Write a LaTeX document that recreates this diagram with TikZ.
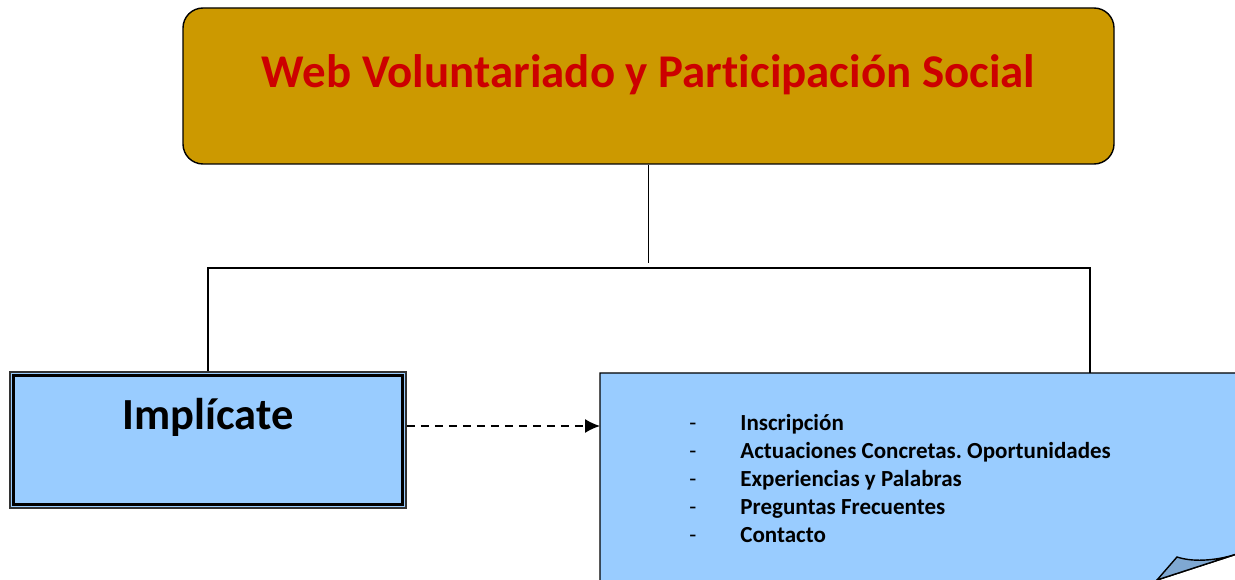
\documentclass[tikz,border=0pt]{standalone}
\usepackage{fontspec}
\setmainfont{Carlito}[Ligatures=NoCommon]
\usetikzlibrary{arrows.meta}
\frenchspacing

\definecolor{gold}{HTML}{CC9900}
\definecolor{titlered}{HTML}{CC0000}
\definecolor{skyblue}{HTML}{99CCFF}
\definecolor{flapblue}{HTML}{7FA8D2}

\tikzset{
	conn/.style={line width=0.8pt},
	titlebox/.style={draw, line width=0.8pt, fill=gold, rounded corners=0.4cm, minimum width=18.62cm, minimum height=3.12cm},
	implbox/.style={draw=black!80, line width=1pt, fill=skyblue, minimum width=7.92cm, minimum height=2.72cm},
	itemtext/.style={anchor=base west, font=\fontsize{13.1}{15}\selectfont\bfseries, inner sep=0pt},
	itemdash/.style={anchor=base west, font=\fontsize{13.1}{15}\selectfont, inner sep=0pt}
}

\begin{document}
\begin{tikzpicture}

		\clip (0,0) rectangle (24.7,11.6);

		% top box
		\node[titlebox] (title) at (12.97,9.88) {};
		\node[text=titlered, font=\fontsize{26.7}{30}\selectfont\bfseries] (titletext) at (12.97,10.10) {Web Voluntariado y Participación Social};

		% left box
		\node[implbox] (impl) at (4.16,2.8) {};
		\draw[line width=1.6pt] ([shift={(0.09,0.09)}]impl.south west) rectangle ([shift={(-0.09,-0.09)}]impl.north east);
		\node[font=\fontsize{25.3}{28}\selectfont\bfseries] (impltext) at (4.16,3.26) {Implícate};

		% right box with curled corner
		\draw[line width=0.8pt, fill=skyblue] (12.0,-0.5) -- (12.0,4.14) -- (25.2,4.14) -- (25.2,0.67) -- (23.14,0) -- (23.14,-0.5) -- cycle;
		\draw[line width=0.8pt, fill=flapblue] (23.14,0) -- (23.54,0.46) .. controls (23.9,0.34) and (24.4,0.40) .. (24.8,0.54) -- cycle;
		\coordinate (lt) at (21.8,4.14);
		\coordinate (lin) at (12.0,3.08);

		\foreach \t [count=\i] in {Inscripción, Actuaciones Concretas. Oportunidades, Experiencias y Palabras, Preguntas Frecuentes, Contacto}{
			\node[itemdash] (dash\i) at (13.78,{2.98-0.56*(\i-1)}) {-};
			\node[itemtext] (item\i) at (14.8,{2.98-0.56*(\i-1)}) {\t};
		}

		% connectors
		\coordinate (jt) at (12.97,6.34);
		\coordinate (hl) at (4.16,6.24);
		\coordinate (hr) at (21.8,6.24);
		\draw[conn] (title.south) -- (jt);
		\draw[conn] (impl.north) -- (hl) -- (hr) -- (lt);

		\draw[line width=0.85pt, dash pattern=on 0.16cm off 0.12cm, -{Latex[length=0.3cm,width=0.28cm]}] ([yshift=0.28cm]impl.east) -- (lin);

	\end{tikzpicture}
\end{document}
